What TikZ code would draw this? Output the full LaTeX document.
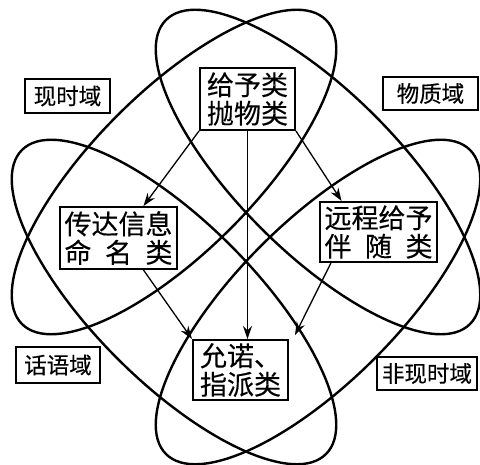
\documentclass[tikz,border=0pt]{standalone}
\usepackage{fontspec}
\newfontfamily\cjk[FakeBold=0.3]{Noto Sans CJK SC}
\usetikzlibrary{arrows.meta,calc}
\begin{document}
\begin{tikzpicture}[x=1pt,y=1pt,
  orbit/.style={line width=2.4pt},
  catbox/.style={draw,line width=2pt,inner sep=0pt,align=center,fill=white,font=\cjk\fontsize{27}{28.5}\selectfont},
  dombox/.style={draw,line width=2pt,inner sep=0pt,align=center,font=\cjk\fontsize{22.5}{24}\selectfont},
  arr/.style={line width=1.3pt,-{Stealth[length=13pt,width=9pt]}}]
\useasboundingbox (0,0) rectangle (480,-465);
% four domain ellipses
\draw[orbit, rotate around={45:(174,-172)}] (174,-172) ellipse [x radius=215pt, y radius=80pt];
\draw[orbit, rotate around={-45:(318,-172)}] (318,-172) ellipse [x radius=215pt, y radius=80pt];
\draw[orbit, rotate around={-45:(174,-302)}] (174,-302) ellipse [x radius=215pt, y radius=80pt];
\draw[orbit, rotate around={45:(318,-302)}] (318,-302) ellipse [x radius=215pt, y radius=80pt];
% domain labels
\node[dombox, minimum width=85pt, minimum height=34pt] (xs) at (67.5,-96) {现时域};
\node[dombox, minimum width=95pt, minimum height=33pt] (wz) at (430.5,-93.5) {物质域};
\node[dombox, minimum width=84pt, minimum height=36pt] (hy) at (58,-365) {话语域};
\node[dombox, minimum width=100pt, minimum height=33pt] (fx) at (427,-373.5) {非现时域};
% category boxes
\node[catbox, minimum width=95pt, minimum height=62pt] (gy) at (247.5,-99) {给予类\\抛物类};
\node[catbox, minimum width=117pt, minimum height=62pt] (cd) at (118.5,-238) {传达信息\\\makebox[4em]{命\hfill 名\hfill 类}};
\node[catbox, minimum width=117pt, minimum height=60pt] (yc) at (378.5,-232) {远程给予\\\makebox[4em]{伴\hfill 随\hfill 类}};
\node[catbox, minimum width=95pt, minimum height=60pt] (yn) at (240.5,-370) {允诺、\\指派类};
% arrows
\draw[arr] (gy.south west) -- ($(cd.north west)!0.71!(cd.north east)$);
\draw[arr] (gy.south) -- (gy.south |- yn.north);
\draw[arr] (gy.south east) -- ($(yc.north west)!0.19!(yc.north east)$);
\draw[arr] ($(cd.south west)!0.71!(cd.south east)$) -- (yn.north west);
\draw[arr] ($(yc.south west)!0.1!(yc.south east)$) -- ($(yn.north east)+(6,4)$);
\end{tikzpicture}
\end{document}
